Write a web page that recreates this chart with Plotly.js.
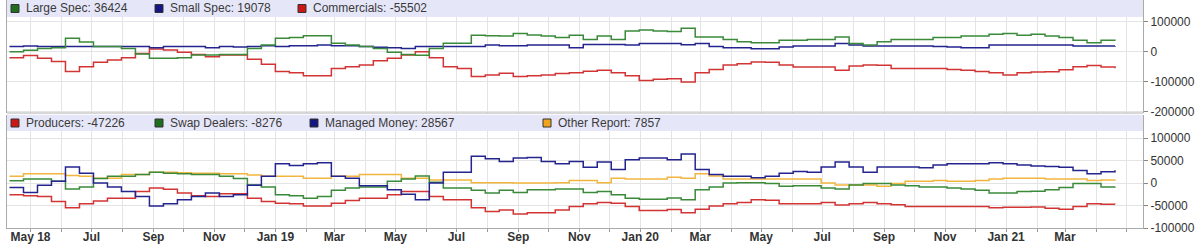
<!DOCTYPE html>
<html>
<head>
<meta charset="utf-8">
<script src="https://cdn.plot.ly/plotly-3.0.1.min.js"></script>
<style>
html,body{margin:0;padding:0;background:#fff;}
#chart{width:1200px;height:248px;}
</style>
</head>
<body>
<div id="chart"></div>
<script>
// ---- data (biweekly report dates) ----
const dates = [
'2018-04-10','2018-04-24','2018-05-08','2018-05-22','2018-06-05','2018-06-19','2018-07-03','2018-07-17','2018-07-31','2018-08-14',
'2018-08-28','2018-09-11','2018-09-25','2018-10-09','2018-10-23','2018-11-06','2018-11-20','2018-12-04','2018-12-18','2019-01-01',
'2019-01-15','2019-01-29','2019-02-12','2019-02-26','2019-03-12','2019-03-26','2019-04-09','2019-04-23','2019-05-07','2019-05-21',
'2019-06-04','2019-06-18','2019-07-02','2019-07-16','2019-07-30','2019-08-13','2019-08-27','2019-09-10','2019-09-24','2019-10-08',
'2019-10-22','2019-11-05','2019-11-19','2019-12-03','2019-12-17','2019-12-31','2020-01-14','2020-01-28','2020-02-11','2020-02-25',
'2020-03-10','2020-03-24','2020-04-07','2020-04-21','2020-05-05','2020-05-19','2020-06-02','2020-06-16','2020-06-30','2020-07-14',
'2020-07-28','2020-08-11','2020-08-25','2020-09-08','2020-09-22','2020-10-06','2020-10-20','2020-11-03','2020-11-17','2020-12-01',
'2020-12-15','2020-12-29','2021-01-12','2021-01-26','2021-02-09','2021-02-23','2021-03-09','2021-03-23','2021-04-06','2021-04-20'];

const largeSpec = [
0,5000,11000,13000,45000,32000,17000,17000,11000,-8000,
-22000,-22000,-20000,-11000,-11000,-9000,-9000,11000,22000,45000,
47000,53000,53000,28000,22000,17000,11000,-2000,-9000,-12000,
11000,28000,28000,55000,53000,52000,61000,56000,52000,47000,
55000,41000,52000,41000,69000,72000,69000,67000,78000,49000,
49000,41000,33000,30000,30000,38000,38000,41000,41000,49000,
27000,22000,33000,41000,41000,41000,47000,47000,52000,52000,
58000,61000,55000,58000,52000,47000,38000,30000,38000,36424];

const smallSpec = [
17000,19000,17000,17000,17000,17000,17000,17000,17000,17000,
13000,17000,17000,17000,13000,17000,16000,17000,20000,17000,
20000,20000,22000,20000,20000,17000,15000,13000,11000,17000,
17000,17000,17000,17000,22000,20000,20000,22000,22000,22000,
13000,24000,24000,24000,22000,27000,27000,27000,23000,27000,
17000,13000,13000,10000,10000,16000,19000,19000,19000,27000,
22000,19000,19000,19000,19000,19000,17000,16000,13000,13000,
22000,22000,22000,22000,22000,22000,19000,19000,19000,19078];

const commercials = [
-20000,-13000,-22000,-33000,-66000,-50000,-35000,-28000,-20000,-6000,
9000,6000,-2000,-9000,-17000,-11000,-11000,-25000,-42000,-66000,
-70000,-80000,-80000,-56000,-50000,-44000,-30000,-22000,-11000,0,
-20000,-50000,-56000,-83000,-78000,-72000,-83000,-80000,-78000,-73000,
-70000,-65000,-62000,-70000,-80000,-96000,-92000,-90000,-101000,-70000,
-59000,-44000,-40000,-34000,-35000,-44000,-51000,-51000,-51000,-62000,
-48000,-44000,-45000,-56000,-56000,-56000,-56000,-59000,-62000,-66000,
-70000,-78000,-70000,-68000,-67000,-60000,-50000,-46000,-51000,-55502];

const producers = [
-26000,-28000,-30000,-41000,-55000,-46000,-40000,-34000,-34000,-19000,
-11000,-14000,-22000,-28000,-30000,-24000,-24000,-34000,-41000,-45000,
-46000,-51000,-51000,-45000,-39000,-34000,-34000,-26000,-19000,-19000,
-30000,-37000,-37000,-55000,-63000,-60000,-69000,-66000,-66000,-60000,
-52000,-46000,-43000,-45000,-52000,-61000,-61000,-59000,-66000,-58000,
-51000,-46000,-43000,-37000,-38000,-46000,-46000,-46000,-43000,-49000,
-46000,-43000,-46000,-48000,-52000,-52000,-52000,-52000,-52000,-52000,
-55000,-54000,-54000,-53000,-56000,-58000,-52000,-46000,-47000,-47226];

const swapDealers = [
5000,9000,9000,4000,-13000,-9000,10000,15000,15000,19000,
24000,22000,21000,19000,19000,15000,10000,-4000,-9000,-26000,
-28000,-34000,-30000,-16000,-11000,-9000,-9000,4000,9000,16000,
2000,-11000,-11000,-16000,-22000,-16000,-21000,-15000,-15000,-13000,
-13000,-21000,-19000,-26000,-34000,-36000,-36000,-33000,-37000,-15000,
-9000,0,1000,1000,-1000,-7000,-6000,-6000,-11000,-13000,
-4000,-1000,-1000,-4000,-6000,-9000,-9000,-11000,-13000,-16000,
-22000,-22000,-19000,-18000,-15000,-10000,-1000,-1000,-9000,-8276];

const managedMoney = [
-10000,-21000,-5000,4000,36000,22000,0,-9000,-19000,-30000,
-51000,-46000,-37000,-30000,-22000,-30000,-26000,-5000,15000,43000,
39000,43000,45000,15000,11000,-6000,-6000,-15000,-25000,-37000,
0,24000,24000,60000,54000,48000,56000,57000,48000,43000,
48000,35000,47000,30000,52000,56000,56000,52000,65000,30000,
19000,15000,15000,12000,15000,22000,26000,24000,36000,47000,
36000,24000,36000,36000,36000,34000,40000,43000,43000,43000,
45000,43000,40000,38000,37000,35000,28000,21000,25000,28567];

const otherReport = [
15000,21000,21000,21000,17000,15000,11000,11000,19000,19000,
24000,24000,23000,22000,22000,21000,21000,18000,15000,15000,
15000,11000,11000,15000,15000,19000,19000,19000,11000,11000,
7000,7000,7000,1000,1000,1000,0,0,0,1000,
6000,6000,1000,11000,9000,9000,9000,13000,11000,21000,
16000,9000,9000,9000,9000,9000,9000,9000,0,-4000,
-4000,-4000,-7000,-1000,4000,4000,6000,4000,4000,6000,
9000,11000,11000,11000,9000,9000,9000,6000,7000,7857];

const monthTicks = [
'2018-05-01','2018-06-01','2018-07-01','2018-08-01','2018-09-01','2018-10-01','2018-11-01','2018-12-01',
'2019-01-01','2019-02-01','2019-03-01','2019-04-01','2019-05-01','2019-06-01','2019-07-01','2019-08-01',
'2019-09-01','2019-10-01','2019-11-01','2019-12-01','2020-01-01','2020-02-01','2020-03-01','2020-04-01',
'2020-05-01','2020-06-01','2020-07-01','2020-08-01','2020-09-01','2020-10-01','2020-11-01','2020-12-01',
'2021-01-01','2021-02-01','2021-03-01','2021-04-01','2021-05-01'];
const monthLabels = [
'May 18','','Jul','','Sep','','Nov','',
'Jan 19','','Mar','','May','','Jul','',
'Sep','','Nov','','Jan 20','','Mar','',
'May','','Jul','','Sep','','Nov','',
'Jan 21','','Mar','',''];

const topTickVals = [-200000,-100000,0,100000];
const topTickText = ['-200000','-100000','0','100000'];
const botTickVals = [-100000,-50000,0,50000,100000];
const botTickText = ['-100000','-50000','0','50000','100000'];

const topNames = ['Large Spec','Small Spec','Commercials'];
const botNames = ['Producers','Swap Dealers','Managed Money','Other Report'];

// ---- style ----
const C = {green:'#3a8a3a', navy:'#24248f', red:'#d23434', orange:'#f2b540'};
const SQ = {green:'#1e6e1e', navy:'#141485', red:'#cc1515', orange:'#f0a41e'};
const FONT = 'Liberation Sans, Arial, sans-serif';

const L = 7, R = 57, T = 0, B = 20, Wd = 1200, Ht = 248;
const plotW = Wd - L - R, plotH = Ht - T - B;
const px = v => (v - L) / plotW;
const py = v => 1 - (v - T) / plotH;

function tr(y, name, color, yaxis) {
  return {x: dates, y: y, name: name, type: 'scatter', mode: 'lines',
          line: {shape: 'hv', color: color, width: 1.5}, yaxis: yaxis, xaxis: 'x',
          hoverinfo: 'skip'};
}

const data = [
  tr(commercials, topNames[2], C.red, 'y'),
  tr(smallSpec, topNames[1], C.navy, 'y'),
  tr(largeSpec, topNames[0], C.green, 'y'),
  tr(producers, botNames[0], C.red, 'y2'),
  tr(otherReport, botNames[3], C.orange, 'y2'),
  tr(swapDealers, botNames[1], C.green, 'y2'),
  tr(managedMoney, botNames[2], C.navy, 'y2')
];

const topDomain = [py(113), 1];
const botDomain = [0, py(114.8)];

const shapes = [
  {type:'rect', xref:'paper', yref:'paper', x0:0, x1:1, y0:py(17), y1:1, fillcolor:'#e6e6f9', line:{width:0}, layer:'above'},
  {type:'rect', xref:'paper', yref:'paper', x0:0, x1:1, y0:py(131), y1:py(114.8), fillcolor:'#e6e6f9', line:{width:0}, layer:'above'},
  {type:'line', xref:'paper', yref:'paper', x0:0, x1:1, y0:py(113), y1:py(113), line:{color:'#b0b0b0', width:1}, layer:'above'}
];
const annotations = [];

function legendItem(sqx, texty, text, fill) {
  shapes.push({type:'rect', xref:'paper', yref:'paper', x0:px(sqx), x1:px(sqx+8),
    y0:py(texty+4), y1:py(texty-4), fillcolor:fill, line:{color:'#333', width:1}, layer:'above'});
  annotations.push({xref:'paper', yref:'paper', x:px(sqx+13), y:py(texty), xanchor:'left', yanchor:'middle',
    text:text, showarrow:false, font:{family:FONT, size:12, color:'#3a3a3a'}});
}
legendItem(11, 8.5, topNames[0] + ': ' + largeSpec[largeSpec.length-1], SQ.green);
legendItem(155, 8.5, topNames[1] + ': ' + smallSpec[smallSpec.length-1], SQ.navy);
legendItem(298, 8.5, topNames[2] + ': ' + commercials[commercials.length-1], SQ.red);
legendItem(11, 123, botNames[0] + ': ' + producers[producers.length-1], SQ.red);
legendItem(155, 123, botNames[1] + ': ' + swapDealers[swapDealers.length-1], SQ.green);
legendItem(310, 123, botNames[2] + ': ' + managedMoney[managedMoney.length-1], SQ.navy);
legendItem(543, 123, botNames[3] + ': ' + otherReport[otherReport.length-1], SQ.orange);

const gridC = '#e4e4e4';
const layout = {
  width: Wd, height: Ht,
  margin: {l: L, r: R, t: T, b: B, pad: 0},
  paper_bgcolor: '#ffffff', plot_bgcolor: '#ffffff',
  showlegend: false,
  font: {family: FONT, color: '#333'},
  xaxis: {
    type: 'date', anchor: 'y2',
    range: ['2018-04-07 12:00', '2021-05-18'],
    tickmode: 'array', tickvals: monthTicks, ticktext: monthLabels,
    ticks: 'outside', ticklen: 3, tickcolor: '#999',
    ticklabelstandoff: -5,
    tickfont: {family: FONT, size: 12, color: '#333', weight: 'bold'},
    showgrid: true, gridcolor: gridC, gridwidth: 1,
    showline: true, linecolor: '#aaa', linewidth: 1,
    zeroline: false
  },
  yaxis: {
    domain: topDomain, side: 'right', anchor: 'x',
    range: [-204300, 172300],
    tickmode: 'array', tickvals: topTickVals, ticktext: topTickText,
    ticks: 'outside', ticklen: 4, tickcolor: '#888',
    tickfont: {family: FONT, size: 12, color: '#333'},
    showgrid: true, gridcolor: gridC, zeroline: false,
    showline: true, linecolor: '#aaa', linewidth: 1, mirror: true
  },
  yaxis2: {
    domain: botDomain, side: 'right', anchor: 'x',
    range: [-100000, 152000],
    tickmode: 'array', tickvals: botTickVals, ticktext: botTickText,
    ticks: 'outside', ticklen: 4, tickcolor: '#888',
    tickfont: {family: FONT, size: 12, color: '#333'},
    showgrid: true, gridcolor: gridC, zeroline: false,
    showline: true, linecolor: '#aaa', linewidth: 1, mirror: true
  },
  shapes: shapes,
  annotations: annotations
};

Plotly.newPlot('chart', data, layout, {staticPlot: true, displayModeBar: false});
</script>
</body>
</html>
